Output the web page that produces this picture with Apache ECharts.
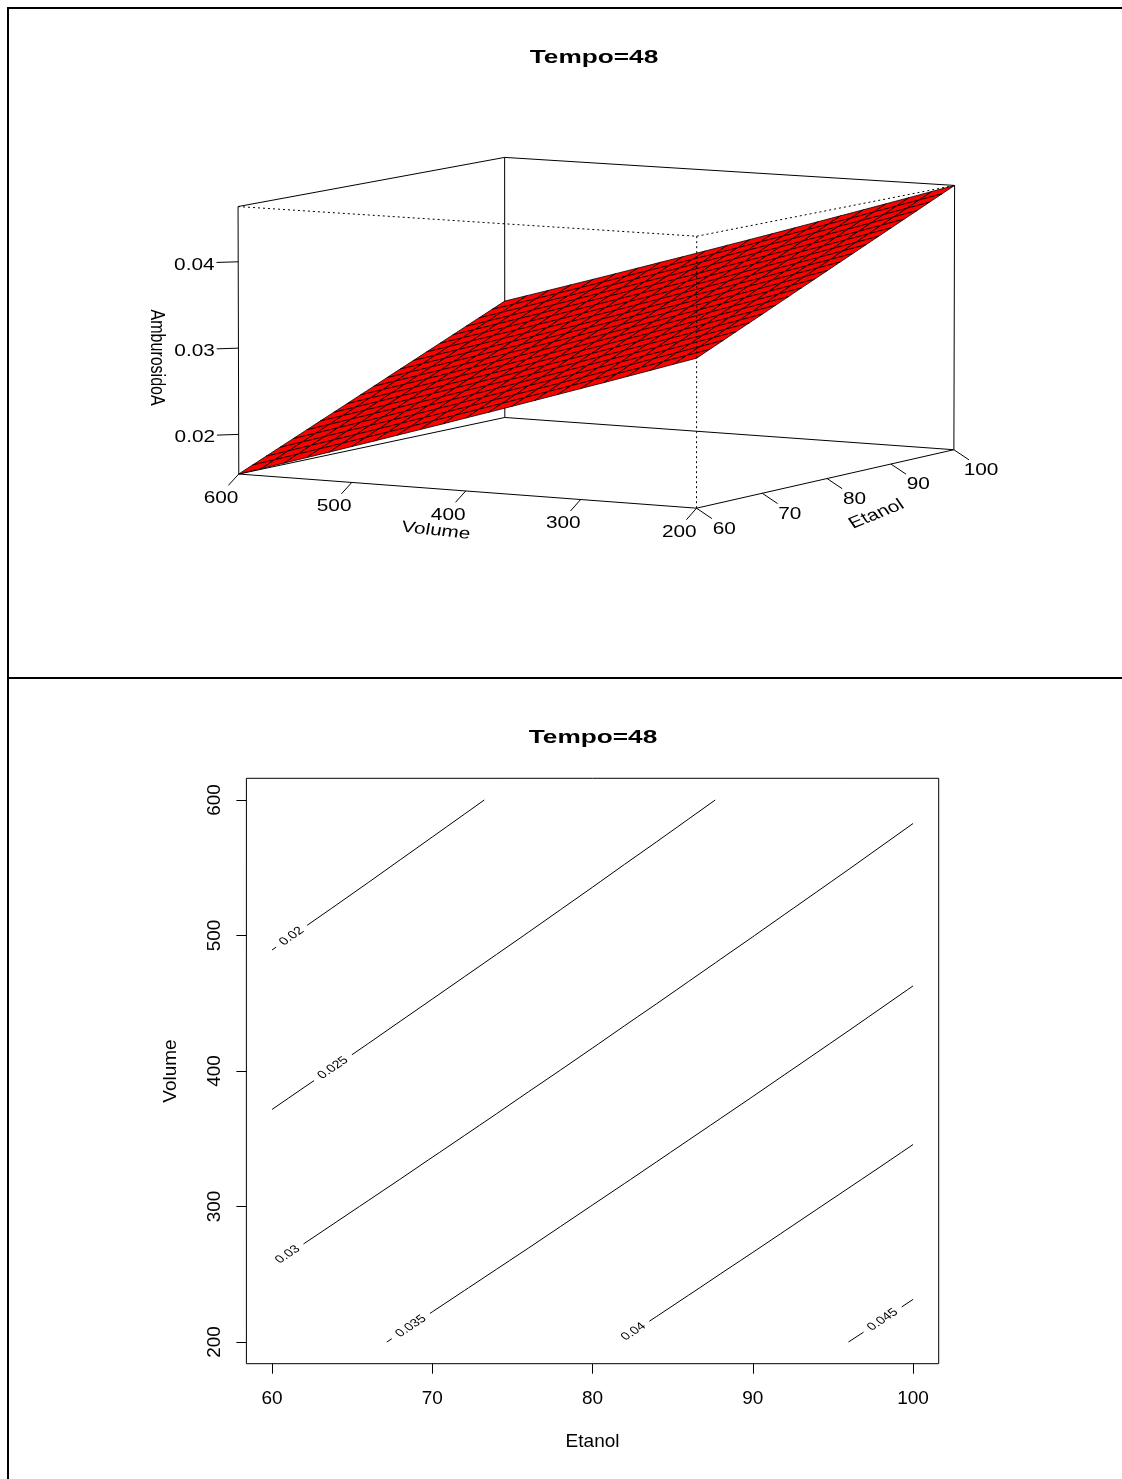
<!DOCTYPE html>
<html>
<head>
<meta charset="utf-8">
<script src="https://cdn.jsdelivr.net/npm/echarts@6.0.0/dist/echarts.min.js"></script>
<style>
html,body{margin:0;padding:0;background:#ffffff;}
#chart{width:1122px;height:1479px;}
</style>
</head>
<body>
<div id="chart"></div>
<script>
// ================= DATA =================
const chartTitle = 'Tempo=48';
const volName = 'Volume';
const etaName = 'Etanol';
const ambName = 'AmburosidoA';
const etanol = [60,62,64,66,68,70,72,74,76,78,80,82,84,86,88,90,92,94,96,98,100];
const volume = [200,220,240,260,280,300,320,340,360,380,400,420,440,460,480,500,520,540,560,580,600];
// AmburosidoA: one row per volume value, one column per etanol value
const ambA = [
[0.03251,0.03321,0.03390,0.03460,0.03529,0.03598,0.03668,0.03737,0.03807,0.03876,0.03945,0.04015,0.04084,0.04154,0.04223,0.04292,0.04362,0.04431,0.04501,0.04570,0.04639],
[0.03163,0.03232,0.03301,0.03371,0.03440,0.03510,0.03579,0.03648,0.03718,0.03787,0.03857,0.03926,0.03995,0.04065,0.04134,0.04204,0.04273,0.04342,0.04412,0.04481,0.04551],
[0.03074,0.03144,0.03213,0.03282,0.03352,0.03421,0.03491,0.03560,0.03629,0.03699,0.03768,0.03838,0.03907,0.03976,0.04046,0.04115,0.04185,0.04254,0.04323,0.04393,0.04462],
[0.02986,0.03055,0.03125,0.03194,0.03264,0.03333,0.03402,0.03472,0.03541,0.03611,0.03680,0.03749,0.03819,0.03888,0.03958,0.04027,0.04096,0.04166,0.04235,0.04305,0.04374],
[0.02898,0.02968,0.03037,0.03106,0.03176,0.03245,0.03315,0.03384,0.03453,0.03523,0.03592,0.03662,0.03731,0.03800,0.03870,0.03939,0.04009,0.04078,0.04147,0.04217,0.04286],
[0.02811,0.02880,0.02950,0.03019,0.03088,0.03158,0.03227,0.03297,0.03366,0.03435,0.03505,0.03574,0.03644,0.03713,0.03782,0.03852,0.03921,0.03991,0.04060,0.04129,0.04199],
[0.02724,0.02793,0.02862,0.02932,0.03001,0.03071,0.03140,0.03209,0.03279,0.03348,0.03418,0.03487,0.03556,0.03626,0.03695,0.03765,0.03834,0.03903,0.03973,0.04042,0.04112],
[0.02637,0.02706,0.02776,0.02845,0.02914,0.02984,0.03053,0.03123,0.03192,0.03261,0.03331,0.03400,0.03470,0.03539,0.03608,0.03678,0.03747,0.03817,0.03886,0.03955,0.04025],
[0.02550,0.02620,0.02689,0.02759,0.02828,0.02897,0.02967,0.03036,0.03106,0.03175,0.03244,0.03314,0.03383,0.03453,0.03522,0.03591,0.03661,0.03730,0.03800,0.03869,0.03938],
[0.02464,0.02534,0.02603,0.02673,0.02742,0.02811,0.02881,0.02950,0.03020,0.03089,0.03158,0.03228,0.03297,0.03367,0.03436,0.03505,0.03575,0.03644,0.03714,0.03783,0.03852],
[0.02379,0.02448,0.02517,0.02587,0.02656,0.02726,0.02795,0.02864,0.02934,0.03003,0.03073,0.03142,0.03211,0.03281,0.03350,0.03420,0.03489,0.03558,0.03628,0.03697,0.03767],
[0.02293,0.02363,0.02432,0.02501,0.02571,0.02640,0.02710,0.02779,0.02848,0.02918,0.02987,0.03057,0.03126,0.03195,0.03265,0.03334,0.03404,0.03473,0.03542,0.03612,0.03681],
[0.02208,0.02278,0.02347,0.02416,0.02486,0.02555,0.02625,0.02694,0.02763,0.02833,0.02902,0.02972,0.03041,0.03110,0.03180,0.03249,0.03319,0.03388,0.03457,0.03527,0.03596],
[0.02124,0.02193,0.02262,0.02332,0.02401,0.02471,0.02540,0.02609,0.02679,0.02748,0.02818,0.02887,0.02956,0.03026,0.03095,0.03165,0.03234,0.03303,0.03373,0.03442,0.03512],
[0.02039,0.02109,0.02178,0.02247,0.02317,0.02386,0.02456,0.02525,0.02594,0.02664,0.02733,0.02803,0.02872,0.02941,0.03011,0.03080,0.03150,0.03219,0.03288,0.03358,0.03427],
[0.01955,0.02025,0.02094,0.02163,0.02233,0.02302,0.02372,0.02441,0.02510,0.02580,0.02649,0.02719,0.02788,0.02857,0.02927,0.02996,0.03066,0.03135,0.03204,0.03274,0.03343],
[0.01871,0.01941,0.02010,0.02080,0.02149,0.02218,0.02288,0.02357,0.02427,0.02496,0.02565,0.02635,0.02704,0.02774,0.02843,0.02912,0.02982,0.03051,0.03121,0.03190,0.03259],
[0.01788,0.01858,0.01927,0.01996,0.02066,0.02135,0.02205,0.02274,0.02343,0.02413,0.02482,0.02552,0.02621,0.02690,0.02760,0.02829,0.02899,0.02968,0.03037,0.03107,0.03176],
[0.01705,0.01775,0.01844,0.01913,0.01983,0.02052,0.02122,0.02191,0.02260,0.02330,0.02399,0.02469,0.02538,0.02607,0.02677,0.02746,0.02816,0.02885,0.02954,0.03024,0.03093],
[0.01623,0.01692,0.01761,0.01831,0.01900,0.01970,0.02039,0.02108,0.02178,0.02247,0.02317,0.02386,0.02455,0.02525,0.02594,0.02664,0.02733,0.02802,0.02872,0.02941,0.03011],
[0.01540,0.01610,0.01679,0.01748,0.01818,0.01887,0.01957,0.02026,0.02095,0.02165,0.02234,0.02304,0.02373,0.02442,0.02512,0.02581,0.02651,0.02720,0.02789,0.02859,0.02928]
];
const etanolTicks = [60,70,80,90,100];
const volumeTicks = [200,300,400,500,600];
const ambTicks = [0.02,0.03,0.04];
const ambTickLabels = ['0.02','0.03','0.04'];
const contourLevels = [0.02,0.025,0.03,0.035,0.04,0.045];
const contourLevelLabels = ['0.02','0.025','0.03','0.035','0.04','0.045'];

// ================= STYLE / LAYOUT =================
const FONT = '"Liberation Sans", Arial, Helvetica, sans-serif';
const SX = 1.3;                 // horizontal glyph stretch seen in the reference
const VIEW = {cx:598.5, cy:329, S:262, thetaDeg:30, sinPhi:0.1184, expand:0.511, K:60};
const labelStartPx = [5, 51, 0, 6, 0, 18];   // where each contour label gap begins (px along line)
const G1 = {left:246.4, top:778.3, width:692.3, height:585.4};

// ================= 3D projection helpers =================
const flatZ = ambA.reduce((a,r)=>a.concat(r),[]);
const zMin = Math.min.apply(null, flatZ), zMax = Math.max.apply(null, flatZ);
const vMin = volume[0], vMax = volume[volume.length-1];
const eMin = etanol[0], eMax = etanol[etanol.length-1];
const normA = V => (V-(vMin+vMax)/2)/((vMax-vMin)/2);
const normB = E => (E-(eMin+eMax)/2)/((eMax-eMin)/2);
const normC = z => (z-(zMin+zMax)/2)/((zMax-zMin)/2);
const cT = Math.cos(VIEW.thetaDeg*Math.PI/180), sT = Math.sin(VIEW.thetaDeg*Math.PI/180);
const sP = VIEW.sinPhi, cP = Math.sqrt(1-sP*sP);
function projN(a,b,c){
  const X = -a*cT + b*sT;
  const D = a*sT + b*cT;
  const ce = c*VIEW.expand;
  const Y = ce*cP + D*sP;
  const Dz = D*cP - ce*sP;
  const s = VIEW.K/(VIEW.K+Dz);
  return [X*s, Y*s, Dz];
}
const deg = d => d*Math.PI/180;
function stretchedRot(screenDeg){ return Math.atan(SX*Math.tan(deg(screenDeg))); }
function textEl(x,y,str,size,rot,bold){
  return {type:'group', x:x, y:y, scaleX:SX, children:[{
    type:'text', rotation:rot||0,
    style:{text:str, x:0, y:0, fill:'#000', font:(bold?'bold ':'')+size+'px '+FONT, align:'center', verticalAlign:'middle'}
  }]};
}
function lineEl(p,q,dash){
  const st = {stroke:'#000', lineWidth:1};
  if(dash) st.lineDash = [2,3];
  return {type:'line', shape:{x1:p[0],y1:p[1],x2:q[0],y2:q[1]}, style:st};
}

// surface cells, far to near
const cells = [];
for(let j=0;j<volume.length-1;j++){
  for(let i=0;i<etanol.length-1;i++){
    const Vc=(volume[j]+volume[j+1])/2, Ec=(etanol[i]+etanol[i+1])/2;
    const zc=(ambA[j][i]+ambA[j][i+1]+ambA[j+1][i]+ambA[j+1][i+1])/4;
    cells.push([i,j,projN(normA(Vc),normB(Ec),normC(zc))[2]]);
  }
}
cells.sort((p,q)=>q[2]-p[2]);

const CORNER = {1:[1,-1,-1],2:[1,-1,1],3:[-1,-1,-1],4:[-1,-1,1],5:[-1,1,-1],6:[-1,1,1],7:[1,1,-1],8:[1,1,1]};
const BACK_EDGES = [[1,2],[2,8],[8,7],[7,1],[5,6],[6,8],[7,5],[1,3],[3,5]];
const FRONT_EDGES = [[3,4],[2,4],[4,6]];

function renderBox(params, api){
  const P = (a,b,c)=>{const r=projN(a,b,c); return api.coord([r[0],r[1]]);};
  const ch = [];
  BACK_EDGES.forEach(e=>ch.push(lineEl(P.apply(null,CORNER[e[0]]), P.apply(null,CORNER[e[1]]))));
  // Volume axis (front-left bottom edge, Etanol = min)
  volumeTicks.forEach(V=>{
    const a=normA(V);
    ch.push(lineEl(P(a,-1,-1), P(a,-1-0.076,-1-0.068)));
    const t=P(a,-1-0.13,-1-0.152);
    ch.push(textEl(t[0],t[1],String(V),16,0));
  });
  let t=P(0,-1-0.221,-1-0.247);
  ch.push(textEl(t[0],t[1],volName,16,-stretchedRot(6)));
  // Etanol axis (front-right bottom edge, Volume = min)
  etanolTicks.forEach(E=>{
    const b=normB(E);
    ch.push(lineEl(P(-1,b,-1), P(-1-0.066,b,-1-0.068)));
    const tt=P(-1-0.119,b,-1-0.142);
    ch.push(textEl(tt[0],tt[1],String(E),16,0));
  });
  t=P(-1-0.2145,0,-1-0.24);
  ch.push(textEl(t[0],t[1],etaName,16,stretchedRot(22)));
  // z axis (left vertical edge)
  ambTicks.forEach((z,k)=>{
    const c=normC(z);
    ch.push(lineEl(P(1,-1,c), P(1.06,-1.06,c)));
    const tt=P(1.121,-1.121,c);
    ch.push(textEl(tt[0],tt[1]+2,ambTickLabels[k],16,0));
  });
  t=P(1.226,-1.226,-0.109);
  ch.push(textEl(t[0],t[1],ambName,16,-Math.PI/2));
  return {type:'group', children:ch};
}
function renderSurface(params, api){
  const c = cells[params.dataIndex];
  const i=c[0], j=c[1];
  const P=(jj,ii)=>{const r=projN(normA(volume[jj]),normB(etanol[ii]),normC(ambA[jj][ii])); return api.coord([r[0],r[1]]);};
  return {type:'polygon', shape:{points:[P(j,i),P(j,i+1),P(j+1,i+1),P(j+1,i)]},
          style:{fill:'#ff0000', stroke:'#000', lineWidth:0.8}};
}
function renderFront(params, api){
  const P = (a,b,c)=>{const r=projN(a,b,c); return api.coord([r[0],r[1]]);};
  return {type:'group', children:FRONT_EDGES.map(e=>lineEl(P.apply(null,CORNER[e[0]]),P.apply(null,CORNER[e[1]]),true))};
}

// ================= contour tracing (marching squares) =================
function traceContour(L){
  const nE=etanol.length, nV=volume.length;
  const pos={}, adj={};
  const val=(i,j)=>ambA[j][i];
  function cross(i0,j0,i1,j1){
    const f0=val(i0,j0), f1=val(i1,j1);
    if((f0>=L)===(f1>=L)) return null;
    const t=(L-f0)/(f1-f0);
    return {key:i0+','+j0+'-'+i1+','+j1,
            p:[etanol[i0]+t*(etanol[i1]-etanol[i0]), volume[j0]+t*(volume[j1]-volume[j0])]};
  }
  for(let j=0;j<nV-1;j++) for(let i=0;i<nE-1;i++){
    const cs=[cross(i,j,i+1,j),cross(i+1,j,i+1,j+1),cross(i,j+1,i+1,j+1),cross(i,j,i,j+1)].filter(Boolean);
    for(let m=0;m+1<cs.length;m+=2){
      const A=cs[m], B=cs[m+1];
      if(!adj[A.key]){adj[A.key]=[];pos[A.key]=A.p;}
      if(!adj[B.key]){adj[B.key]=[];pos[B.key]=B.p;}
      adj[A.key].push(B.key); adj[B.key].push(A.key);
    }
  }
  const keys=Object.keys(adj); if(!keys.length) return [];
  const start=keys.find(k=>adj[k].length===1)||keys[0];
  const out=[pos[start]]; const seen=new Set([start]); let cur=start;
  for(;;){const nx=adj[cur].find(k=>!seen.has(k)); if(!nx) break; seen.add(nx); out.push(pos[nx]); cur=nx;}
  if(out[0][1]>out[out.length-1][1]) out.reverse();
  return out;
}
const contourPolys = contourLevels.map(traceContour);

const measureCtx = document.createElement('canvas').getContext('2d');
function textW(str,size){ measureCtx.font=size+'px '+FONT; return measureCtx.measureText(str).width; }

function slicePoly(pts,d0,d1){
  const out=[]; let acc=0;
  for(let k=0;k<pts.length-1;k++){
    const p=pts[k], q=pts[k+1]; const L=Math.hypot(q[0]-p[0],q[1]-p[1]);
    if(L<=0) continue;
    const a0=acc, a1=acc+L;
    if(a1>=d0 && a0<=d1){
      const t0=Math.max(0,(d0-a0)/L), t1=Math.min(1,(d1-a0)/L);
      if(!out.length) out.push([p[0]+(q[0]-p[0])*t0, p[1]+(q[1]-p[1])*t0]);
      out.push([p[0]+(q[0]-p[0])*t1, p[1]+(q[1]-p[1])*t1]);
    }
    acc=a1;
  }
  return out;
}
function pointAt(pts,d){
  let acc=0;
  for(let k=0;k<pts.length-1;k++){
    const p=pts[k], q=pts[k+1]; const L=Math.hypot(q[0]-p[0],q[1]-p[1]);
    if(L<=0) continue;
    if(acc+L>=d){const t=(d-acc)/L; return [p[0]+(q[0]-p[0])*t, p[1]+(q[1]-p[1])*t, q[0]-p[0], q[1]-p[1]];}
    acc+=L;
  }
  const p=pts[pts.length-2], q=pts[pts.length-1];
  return [q[0],q[1],q[0]-p[0],q[1]-p[1]];
}
function polyLen(pts){let s=0; for(let k=0;k<pts.length-1;k++) s+=Math.hypot(pts[k+1][0]-pts[k][0],pts[k+1][1]-pts[k][1]); return s;}

function renderContour(params, api){
  const k = params.dataIndex;
  const pts = contourPolys[k].map(p=>api.coord(p));
  if(pts.length<2) return null;
  const total = polyLen(pts);
  const lab = contourLevelLabels[k];
  const size = 11;
  const gLen = textW(lab,size)*SX + 10;
  const g0 = labelStartPx[k];
  const ch = [];
  const style = {stroke:'#000', lineWidth:1, fill:null};
  if(g0>0.5){ ch.push({type:'polyline', shape:{points:slicePoly(pts,0,g0)}, style:style}); }
  ch.push({type:'polyline', shape:{points:slicePoly(pts,g0+gLen,total)}, style:style});
  const m = pointAt(pts, g0+gLen/2);
  const rot = Math.atan2(-m[3], m[2]/SX);
  ch.push({type:'group', x:m[0], y:m[1], scaleX:SX, children:[{type:'text', rotation:rot,
    style:{text:lab, x:0, y:0, fill:'#000', font:size+'px '+FONT, align:'center', verticalAlign:'middle'}}]});
  return {type:'group', children:ch};
}

// ================= chart =================
const chart = echarts.init(document.getElementById('chart'), null, {renderer:'canvas', width:1122, height:1479});
const S = VIEW.S;
const titleStyle = {text:chartTitle, x:0, y:0, fill:'#000', font:'bold 19px '+FONT, align:'center', verticalAlign:'middle', textAlign:'center', textVerticalAlign:'middle'};
const option = {
  animation:false,
  backgroundColor:'#ffffff',
  grid:[
    {left:VIEW.cx-1.6*S, top:VIEW.cy-S, width:3.2*S, height:2*S, show:false},
    {left:G1.left, top:G1.top, width:G1.width, height:G1.height, show:true, borderColor:'#000', borderWidth:1, backgroundColor:'transparent'}
  ],
  xAxis:[
    {gridIndex:0, type:'value', min:-1.6, max:1.6, show:false},
    {gridIndex:1, type:'value', min:58.4, max:101.6,
     axisLine:{show:false, onZero:false}, splitLine:{show:false},
     axisTick:{show:true, customValues:etanolTicks, length:10, lineStyle:{color:'#000', width:1}},
     axisLabel:{customValues:etanolTicks, color:'#000', fontSize:19, fontFamily:FONT, margin:26},
     name:etaName, nameLocation:'middle', nameGap:69,
     nameTextStyle:{color:'#000', fontSize:19, fontFamily:FONT}}
  ],
  yAxis:[
    {gridIndex:0, type:'value', min:-1, max:1, show:false},
    {gridIndex:1, type:'value', min:184, max:616,
     axisLine:{show:false, onZero:false}, splitLine:{show:false},
     axisTick:{show:true, customValues:volumeTicks, length:10, lineStyle:{color:'#000', width:1}},
     axisLabel:{customValues:volumeTicks, color:'#000', fontSize:19, fontFamily:FONT, margin:22, rotate:90},
     name:volName, nameLocation:'middle', nameGap:66,
     nameTextStyle:{color:'#000', fontSize:19, fontFamily:FONT}}
  ],
  graphic:[
    {type:'line', silent:true, shape:{x1:7,y1:8,x2:1122,y2:8}, style:{stroke:'#000', lineWidth:2}},
    {type:'line', silent:true, shape:{x1:8,y1:7,x2:8,y2:1479}, style:{stroke:'#000', lineWidth:2}},
    {type:'line', silent:true, shape:{x1:8,y1:678,x2:1122,y2:678}, style:{stroke:'#000', lineWidth:2}},
    {type:'group', x:594, y:58, scaleX:1.38, silent:true, children:[{type:'text', style:titleStyle}]},
    {type:'group', x:593, y:738, scaleX:1.38, silent:true, children:[{type:'text', style:titleStyle}]}
  ],
  series:[
    {type:'custom', coordinateSystem:'cartesian2d', xAxisIndex:0, yAxisIndex:0, silent:true, z:1,
     data:[[0,0]], renderItem:renderBox},
    {type:'custom', coordinateSystem:'cartesian2d', xAxisIndex:0, yAxisIndex:0, silent:true, z:2,
     data:cells.map(c=>[c[0],c[1]]), renderItem:renderSurface},
    {type:'custom', coordinateSystem:'cartesian2d', xAxisIndex:0, yAxisIndex:0, silent:true, z:3,
     data:[[0,0]], renderItem:renderFront},
    {type:'custom', coordinateSystem:'cartesian2d', xAxisIndex:1, yAxisIndex:1, silent:true, z:2,
     data:contourLevels.map((L,k)=>[k,L]), renderItem:renderContour}
  ]
};
chart.setOption(option);
</script>
</body>
</html>
